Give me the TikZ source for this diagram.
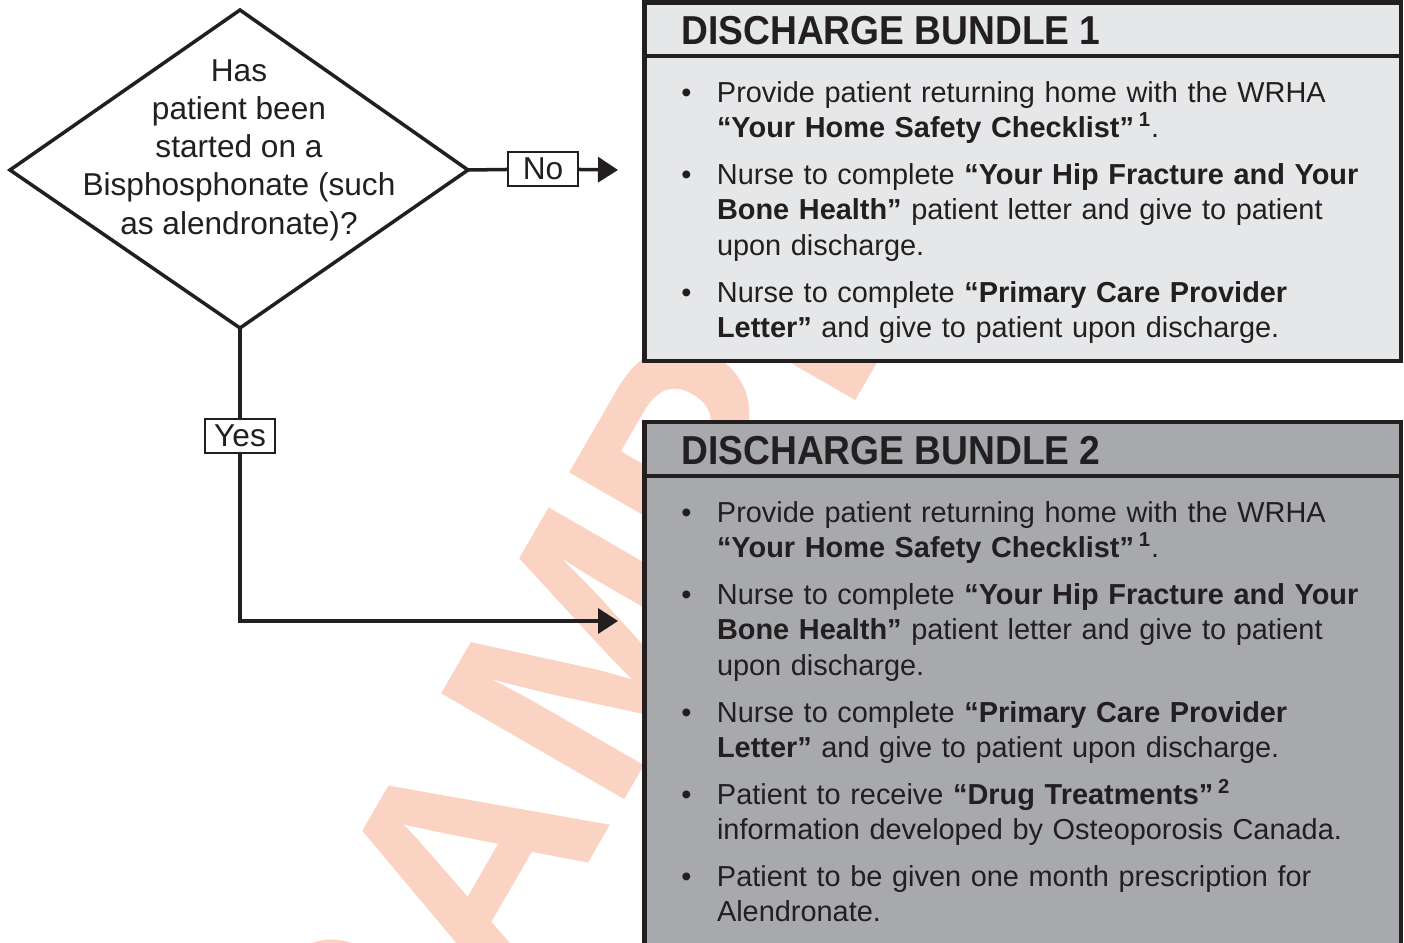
\documentclass[tikz,border=0pt]{standalone}
\usepackage{fontspec}
\setmainfont{Liberation Sans}
\newfontfamily\headfont[FakeStretch=0.92]{Liberation Sans}
\usetikzlibrary{arrows.meta}
\definecolor{ink}{HTML}{231F20}
\definecolor{boxlight}{HTML}{E6E7E8}
\definecolor{boxdark}{HTML}{A7A9AC}
\definecolor{stamp}{HTML}{FBD3C3}
\newcommand{\bul}[1]{\par\hangindent=20.3pt\hangafter=1\noindent\makebox[20.3pt][l]{\textbullet}#1\par}
\newcommand{\refmark}[1]{\,\textsuperscript{\textbf{#1}}}

\begin{document}
\begin{tikzpicture}[x=0.02cm,y=-0.02cm,
    flow/.style={draw=ink,line width=2pt},
    frame/.style={draw=ink,line width=2.8pt},
    lbl/.style={draw=ink,fill=white,line width=0.8pt,inner sep=0pt,minimum width=1.4cm,minimum height=0.68cm,font=\fontsize{18}{21.8}\selectfont,text=ink},
    head/.style={anchor=base west,inner sep=0pt,text=ink,font=\headfont\bfseries\fontsize{23}{27}\selectfont},
    body/.style={anchor=north west,inner sep=0pt,text=ink,text width=14cm,font=\fontsize{16.45}{20.1}\selectfont}]
  \useasboundingbox (0,0) rectangle (1404,943);
  \clip (0,0) rectangle (1404,943);
  % watermark behind everything
  \node [rotate=60,text=stamp,font=\fontsize{175}{175}\selectfont\bfseries] (stampmark) at (630,580) {SAMPLE};

  % decision
  \coordinate (qt) at (240,10);
  \coordinate (qr) at (468,170);
  \coordinate (qb) at (240,328);
  \coordinate (ql) at (10,170);
  \draw [flow,fill=white,line join=miter] (qt) -- (qr) -- (qb) -- (ql) -- cycle;
  \node [align=center,text=ink,font=\fontsize{18}{21.8}\selectfont] (quest) at (239,150)
    {Has\\patient been\\started on a\\Bisphosphonate (such\\as alendronate)?};

  % bundle 1
  \draw [frame,fill=boxlight] (644.5,2.5) rectangle (1401,361);
  \draw [frame] (644.5,56) -- (1401,56);
  \node [head] (h1) at (681,44) {DISCHARGE BUNDLE 1};
  \node [body] (b1) at (681,55) {\raggedright\setlength{\parskip}{6.6pt}%
    \bul{Provide patient returning home with the WRHA\newline\textbf{“Your Home Safety Checklist”}\refmark{1}.}
    \bul{Nurse to complete \textbf{“Your Hip Fracture and Your\newline Bone Health”} patient letter and give to patient\newline upon discharge.}
    \bul{Nurse to complete \textbf{“Primary Care Provider\newline Letter”} and give to patient upon discharge.}};

  % bundle 2
  \draw [frame,fill=boxdark] (644.5,422) rectangle (1401,980);
  \draw [frame] (644.5,476) -- (1401,476);
  \node [head] (h2) at (681,464) {DISCHARGE BUNDLE 2};
  \node [body] (b2) at (681,475) {\raggedright\setlength{\parskip}{6.6pt}%
    \bul{Provide patient returning home with the WRHA\newline\textbf{“Your Home Safety Checklist”}\refmark{1}.}
    \bul{Nurse to complete \textbf{“Your Hip Fracture and Your\newline Bone Health”} patient letter and give to patient\newline upon discharge.}
    \bul{Nurse to complete \textbf{“Primary Care Provider\newline Letter”} and give to patient upon discharge.}
    \bul{Patient to receive \textbf{“Drug Treatments”}\refmark{2}\newline information developed by Osteoporosis Canada.}
    \bul{Patient to be given one month prescription for\newline Alendronate.}};

  % connectors
  \coordinate (in1) at (618,170);
  \coordinate (in2) at (618,621);
  \node [lbl] (no) at (543,169) {No};
  \node [lbl] (yes) at (240,436) {Yes};
  \draw [flow] (qr) -- (no);
  \draw [flow,-{Triangle[length=0.4cm,width=0.5cm]}] (no) -- (in1);
  \draw [flow] (qb) -- (yes);
  \draw [flow,-{Triangle[length=0.4cm,width=0.5cm]}] (yes) |- (in2);
\end{tikzpicture}
\end{document}
